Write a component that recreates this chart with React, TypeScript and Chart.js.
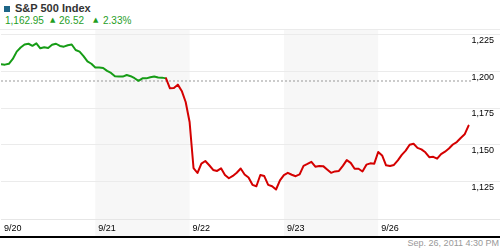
import React, { useEffect, useRef } from "react";
import { Chart, registerables } from "chart.js";

Chart.register(...registerables);

const dayLabels = ["9/20", "9/21", "9/22", "9/23", "9/26"];
const yTicks = [1125, 1150, 1175, 1200, 1225];
const prevClose = 1193.5;
const lastPrice = "1,162.95";
const change = "26.52";
const changePct = "2.33%";
const stamp = "Sep. 26, 2011 4:30 PM";

const day1 = [1204.9, 1204.7, 1205.3, 1208.6, 1213.6, 1216.4, 1218.5, 1219.0, 1217.6, 1219.3, 1215.9, 1216.6, 1216.1, 1218.3, 1219.0, 1217.5, 1217.0, 1218.0, 1218.5, 1214.7, 1213.6, 1210.5, 1206.9, 1205.3];
const day2 = [1202.7, 1202.7, 1202.4, 1200.4, 1199.0, 1196.7, 1196.6, 1196.5, 1197.6, 1196.8, 1195.4, 1193.6, 1195.3, 1195.3, 1196.1, 1196.6, 1195.9, 1195.8, 1195.3, 1188.5, 1188.7, 1191.0, 1186.7, 1179.1];
const day3 = [1165.4, 1133.9, 1130.5, 1136.9, 1138.7, 1135.8, 1132.6, 1131.9, 1133.7, 1129.1, 1126.9, 1128.5, 1130.7, 1133.6, 1129.5, 1127.4, 1122.4, 1121.4, 1129.1, 1128.4, 1122.4, 1121.4, 1119.2, 1125.4];
const day4 = [1129.1, 1130.6, 1129.3, 1128.3, 1129.5, 1135.4, 1136.7, 1138.1, 1134.8, 1135.3, 1135.2, 1132.9, 1130.6, 1131.6, 1131.9, 1135.4, 1139.3, 1137.4, 1133.4, 1133.4, 1131.5, 1136.2, 1137.1, 1136.9];
const day5 = [1144.9, 1142.5, 1135.8, 1135.3, 1136.0, 1139.1, 1142.9, 1145.8, 1149.8, 1150.5, 1147.7, 1146.7, 1144.7, 1141.3, 1141.6, 1140.3, 1143.4, 1145.1, 1147.3, 1150.0, 1151.7, 1154.5, 1157.0, 1162.95];
const days = [day1, day2, day3, day4, day5];

const GREEN = "#169c16";
const RED = "#d40000";
const TEXT_GREEN = "#1f9e1f";
const FONT = "'Liberation Sans', Arial, sans-serif";

export default function App() {
  const ref = useRef<HTMLCanvasElement>(null);

  useEffect(() => {
    const points = days.flatMap((vals, d) =>
      vals.map((v, i) => ({ x: d + i / vals.length, y: v }))
    );
    const bands = {
      id: "bands",
      beforeDraw(chart: any) {
        const { ctx } = chart;
        const x = chart.scales.x;
        ctx.save();
        ctx.fillStyle = "#f7f7f7";
        [1, 3].forEach((d) => {
          const x0 = x.getPixelForValue(d);
          const x1 = x.getPixelForValue(d + 1);
          ctx.fillRect(x0, 0, x1 - x0, chart.height);
        });
        ctx.fillStyle = "#ebebeb";
        ctx.fillRect(0, 0, chart.width, 1);
        ctx.restore();
      },
    };
    const chart = new Chart(ref.current as HTMLCanvasElement, {
      type: "line",
      data: {
        datasets: [
          {
            data: points,
            borderWidth: 2,
            pointRadius: 0,
            borderColor: RED,
            borderJoinStyle: "round",
            borderCapStyle: "round",
            order: 1,
            segment: {
              borderColor: (c: any) =>
                c.p0.parsed.y >= prevClose && c.p1.parsed.y >= prevClose ? GREEN : RED,
            },
          },
          {
            data: [
              { x: 0, y: prevClose },
              { x: dayLabels.length, y: prevClose },
            ],
            borderWidth: 1,
            borderColor: "#999999",
            borderDash: [2, 2],
            pointRadius: 0,
            order: 2,
          },
        ],
      },
      options: {
        responsive: false,
        animation: false,
        events: [],
        layout: { padding: { left: 1, right: 0, top: 0, bottom: 0 } },
        plugins: { legend: { display: false }, tooltip: { enabled: false } },
        scales: {
          x: {
            type: "linear",
            min: 0,
            max: 499 / 94.3,
            grid: { display: false, drawTicks: false },
            border: { display: true, color: "#e6e6e6" },
            afterBuildTicks: (s: any) => {
              s.ticks = dayLabels.map((_, i) => ({ value: i }));
            },
            afterFit: (s: any) => {
              s.height = 17;
              s.paddingLeft = 0;
              s.paddingRight = 0;
            },
            ticks: {
              autoSkip: false,
              maxRotation: 0,
              align: "start",
              labelOffset: 3,
              padding: 4,
              color: "#000",
              font: { family: FONT, size: 9 },
              callback: (v: any) => dayLabels[v] ?? "",
            },
          },
          y: {
            position: "right",
            min: 1099,
            max: 1229.1,
            grid: { color: "#ebebeb", drawTicks: false },
            border: { display: false },
            afterBuildTicks: (s: any) => {
              s.ticks = yTicks.map((v) => ({ value: v }));
            },
            afterFit: (s: any) => {
              s.width = 0;
              s.paddingTop = 0;
              s.paddingBottom = 0;
            },
            ticks: {
              mirror: true,
              padding: -6,
              labelOffset: 6,
              color: "#000",
              font: { family: FONT, size: 9 },
              callback: (v: any) => Number(v).toLocaleString("en-US"),
            },
          },
        },
      },
      plugins: [bands],
    } as any);
    return () => chart.destroy();
  }, []);

  const abs = (s: React.CSSProperties): React.CSSProperties => ({ position: "absolute", whiteSpace: "nowrap", ...s });

  return (
    <div style={{ position: "fixed", left: 0, top: 0, width: 500, height: 250, background: "#fff", fontFamily: FONT, overflow: "hidden" }}>
      <div style={abs({ left: 4, top: 6, width: 6, height: 6, background: "#1e6587" })} />
      <div style={abs({ left: 15, top: 3, fontSize: 11, lineHeight: "11px", fontWeight: "bold", color: "#333" })}>S&amp;P 500 Index</div>
      <div style={abs({ left: 5, top: 16, fontSize: 10, lineHeight: "10px", color: TEXT_GREEN })}>{lastPrice}</div>
      <div style={abs({ left: 50, top: 17, fontSize: 7, lineHeight: "7px", color: TEXT_GREEN, fontFamily: "'DejaVu Sans'" })}>▲</div>
      <div style={abs({ left: 59, top: 16, fontSize: 10, lineHeight: "10px", color: TEXT_GREEN })}>{change}</div>
      <div style={abs({ left: 93, top: 17, fontSize: 7, lineHeight: "7px", color: TEXT_GREEN, fontFamily: "'DejaVu Sans'" })}>▲</div>
      <div style={abs({ left: 103, top: 16, fontSize: 10, lineHeight: "10px", color: TEXT_GREEN })}>{changePct}</div>
      <canvas ref={ref} width={500} height={207} style={abs({ left: 0, top: 29, width: 500, height: 207 })} />
      <div style={abs({ left: 0, top: 236, width: 500, height: 2, background: "#000" })} />
      <div style={abs({ right: 1, top: 239, fontSize: 9, lineHeight: "9px", color: "#999" })}>{stamp}</div>
    </div>
  );
}
